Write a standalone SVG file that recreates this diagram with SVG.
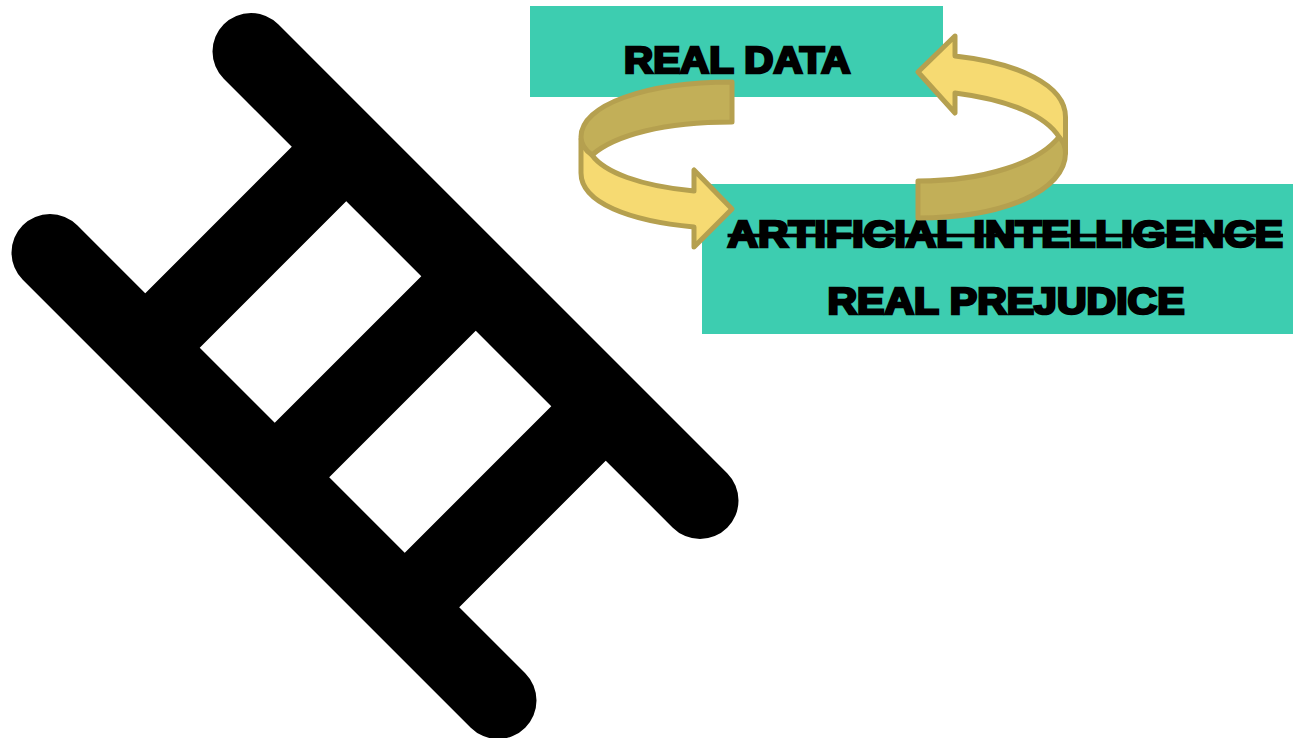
<svg xmlns="http://www.w3.org/2000/svg" width="1293" height="738" viewBox="0 0 1293 738">
<style>
.box{fill:#3DCDB0}
.t{font-family:"Liberation Sans",Arial,sans-serif;font-weight:700;font-size:36.500px;fill:#000;stroke:#000;stroke-width:2.600px;stroke-linejoin:miter}
.strike{stroke:none;text-decoration:line-through;text-decoration-thickness:1.6px}
.strike tspan{stroke:#000;stroke-width:2.600px}
.rail{fill:none;stroke:#000;stroke-width:77;stroke-linecap:round}
.rung{fill:none;stroke:#000;stroke-width:77}
.light{fill:#F6DA72;stroke:#B5A04F;stroke-width:5;stroke-linejoin:round}
.dark{fill:#C2AF58;stroke:#B5A04F;stroke-width:5;stroke-linejoin:round}
</style>
<rect width="1293" height="738" fill="#fff"/>
<g id="ladder">
<path class="rail" d="M251 51.500L700 500.500"/>
<path class="rail" d="M50 252.500L498 700.500"/>
<path class="rung" d="M345 148L147 346M474 278L276 476M604 408L406 606"/>
</g>
<g id="real-data">
<rect class="box" x="530" y="6" width="413" height="91"/>
<text class="t" x="624" y="72.500" textLength="226.500" lengthAdjust="spacingAndGlyphs">REAL DATA</text>
</g>
<g id="ai-real-prejudice">
<rect class="box" x="702" y="184" width="591" height="150"/>
<text class="t strike" x="727.500" y="246.500" textLength="555.500" lengthAdjust="spacingAndGlyphs"><tspan>ARTIFICIAL INTELLIGENCE</tspan></text>
<text class="t" x="827.500" y="313.500" textLength="357" lengthAdjust="spacingAndGlyphs">REAL PREJUDICE</text>
</g>
<g id="connectors">
<path class="light" d="M581 139V173C581 203 630 221 694 227V247L732 209L694 170V191C640 186 604 172 592 155Z"/>
<path class="dark" d="M732 82V122C664 122 615 135 592 155C585 150 581 145 581 137C581 105 645 82 732 82Z"/>
<path class="light" d="M1065.500 153V117C1065.500 85 1018 63 955 56V36L918 72L955 113V93C1010 100 1046 116 1059 137Z"/>
<path class="dark" d="M918 181V218C1005 218 1065.500 190 1065.500 153C1065.500 146 1063 141 1059 137C1038 163 985 181 918 181Z"/>
</g>
</svg>
